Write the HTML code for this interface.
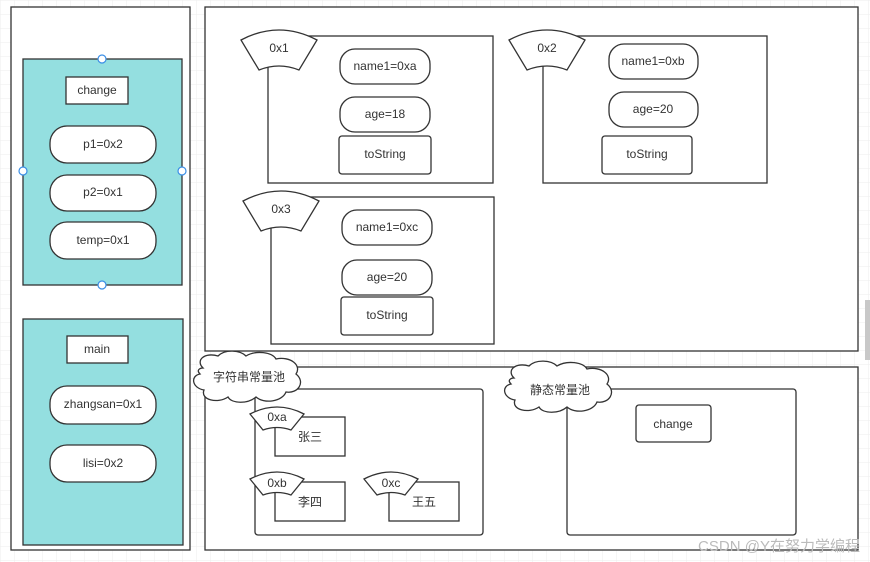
<!DOCTYPE html>
<html><head><meta charset="utf-8"><style>
body{margin:0;width:870px;height:562px;overflow:hidden;background:#fff}
svg{display:block}
text{font-family:"Liberation Sans","Noto Sans CJK SC",sans-serif;font-size:12px;fill:#333;text-anchor:middle;dominant-baseline:middle}
</style></head><body>
<svg width="870" height="562" viewBox="0 0 870 562" xmlns="http://www.w3.org/2000/svg">
<defs><pattern id="g" width="14" height="14" patternUnits="userSpaceOnUse"><path d="M14 0H0V14" fill="none" stroke="#eeeeee" stroke-width="1"/></pattern></defs>
<rect width="870" height="562" fill="url(#g)"/>
<g fill="#fff" stroke="#333" stroke-width="1.3">
<rect x="11" y="7" width="179" height="543"/>
<rect x="23" y="59" width="159" height="226" fill="#94dfe0"/>
<rect x="66" y="77" width="62" height="27"/>
<rect x="50" y="126" width="106" height="37" rx="17"/>
<rect x="50" y="175" width="106" height="36" rx="17"/>
<rect x="50" y="222" width="106" height="37" rx="17"/>
<rect x="23" y="319" width="160" height="226" fill="#94dfe0"/>
<rect x="67" y="336" width="61" height="27"/>
<rect x="50" y="386" width="106" height="38" rx="17"/>
<rect x="50" y="445" width="106" height="37" rx="17"/>
<rect x="205" y="7" width="653" height="344"/>
<rect x="268" y="36" width="225" height="147"/>
<rect x="340" y="49" width="90" height="35" rx="15"/>
<rect x="340" y="97" width="90" height="35" rx="15"/>
<rect x="339" y="136" width="92" height="38" rx="3"/>
<rect x="543" y="36" width="224" height="147"/>
<rect x="609" y="44" width="89" height="35" rx="15"/>
<rect x="609" y="92" width="89" height="35" rx="15"/>
<rect x="602" y="136" width="90" height="38" rx="3"/>
<rect x="271" y="197" width="223" height="147"/>
<rect x="342" y="210" width="90" height="35" rx="15"/>
<rect x="342" y="260" width="90" height="35" rx="15"/>
<rect x="341" y="297" width="92" height="38" rx="3"/>
<path d="M241 40Q279 20 317 40L299 70Q279 62 259 70Z"/>
<path d="M509 40Q547 20 585 40L567 70Q547 62 527 70Z"/>
<path d="M243 201Q281 181 319 201L301 231Q281 223 261 231Z"/>
<rect x="205" y="367" width="653" height="183"/>
<rect x="255" y="389" width="228" height="146" rx="3"/>
<rect x="275" y="417" width="70" height="39"/>
<rect x="275" y="482" width="70" height="39"/>
<rect x="389" y="482" width="70" height="39"/>
<path d="M250 414Q277 400 304 414L291 430Q277 425 263 430Z"/>
<path d="M250 479Q277 465 304 479L291 495Q277 490 263 495Z"/>
<path d="M364 479Q391 465 418 479L405 495Q391 490 377 495Z"/>
<rect x="567" y="389" width="229" height="146" rx="3"/>
<rect x="636" y="405" width="75" height="37" rx="3"/>
<path d="M203 368C195 360 205 352 218 356C225 349 240 350 246 356C256 350 272 352 276 359C290 356 302 365 296 374C306 382 298 394 286 392C282 402 264 404 256 397C248 404 232 404 228 397C218 404 200 400 204 390C192 388 190 376 200 374C196 370 200 368 203 368Z"/>
<path d="M514 378C506 370 516 362 529 366C536 359 551 360 557 366C567 360 583 362 587 369C601 366 613 375 607 384C617 392 609 404 597 402C593 412 575 414 567 407C559 414 543 414 539 407C529 414 511 410 515 400C503 398 501 386 511 384C507 380 511 378 514 378Z"/>
</g>
<g fill="#fff" stroke="#3a8ee6" stroke-width="1.2">
<circle cx="102" cy="59" r="4"/><circle cx="23" cy="171" r="4"/><circle cx="182" cy="171" r="4"/><circle cx="102" cy="285" r="4"/>
</g>
<rect x="865" y="300" width="5" height="60" fill="#c8c8c8"/>
<text x="97" y="91">change</text>
<text x="103" y="145">p1=0x2</text>
<text x="103" y="193">p2=0x1</text>
<text x="103" y="241">temp=0x1</text>
<text x="97" y="350">main</text>
<text x="103" y="405">zhangsan=0x1</text>
<text x="103" y="464">lisi=0x2</text>
<text x="279" y="49">0x1</text>
<text x="385" y="67">name1=0xa</text>
<text x="385" y="115">age=18</text>
<text x="385" y="155">toString</text>
<text x="547" y="49">0x2</text>
<text x="653" y="62">name1=0xb</text>
<text x="653" y="110">age=20</text>
<text x="647" y="155">toString</text>
<text x="281" y="210">0x3</text>
<text x="387" y="228">name1=0xc</text>
<text x="387" y="278">age=20</text>
<text x="387" y="316">toString</text>
<text x="249" y="378">字符串常量池</text>
<text x="560" y="391">静态常量池</text>
<text x="277" y="418">0xa</text>
<text x="310" y="438">张三</text>
<text x="277" y="484">0xb</text>
<text x="310" y="503">李四</text>
<text x="391" y="484">0xc</text>
<text x="424" y="503">王五</text>
<text x="673" y="425">change</text>
<text x="779" y="547" style="font-size:15px;fill:#bbb">CSDN @Y在努力学编程</text>
</svg>
</body></html>
